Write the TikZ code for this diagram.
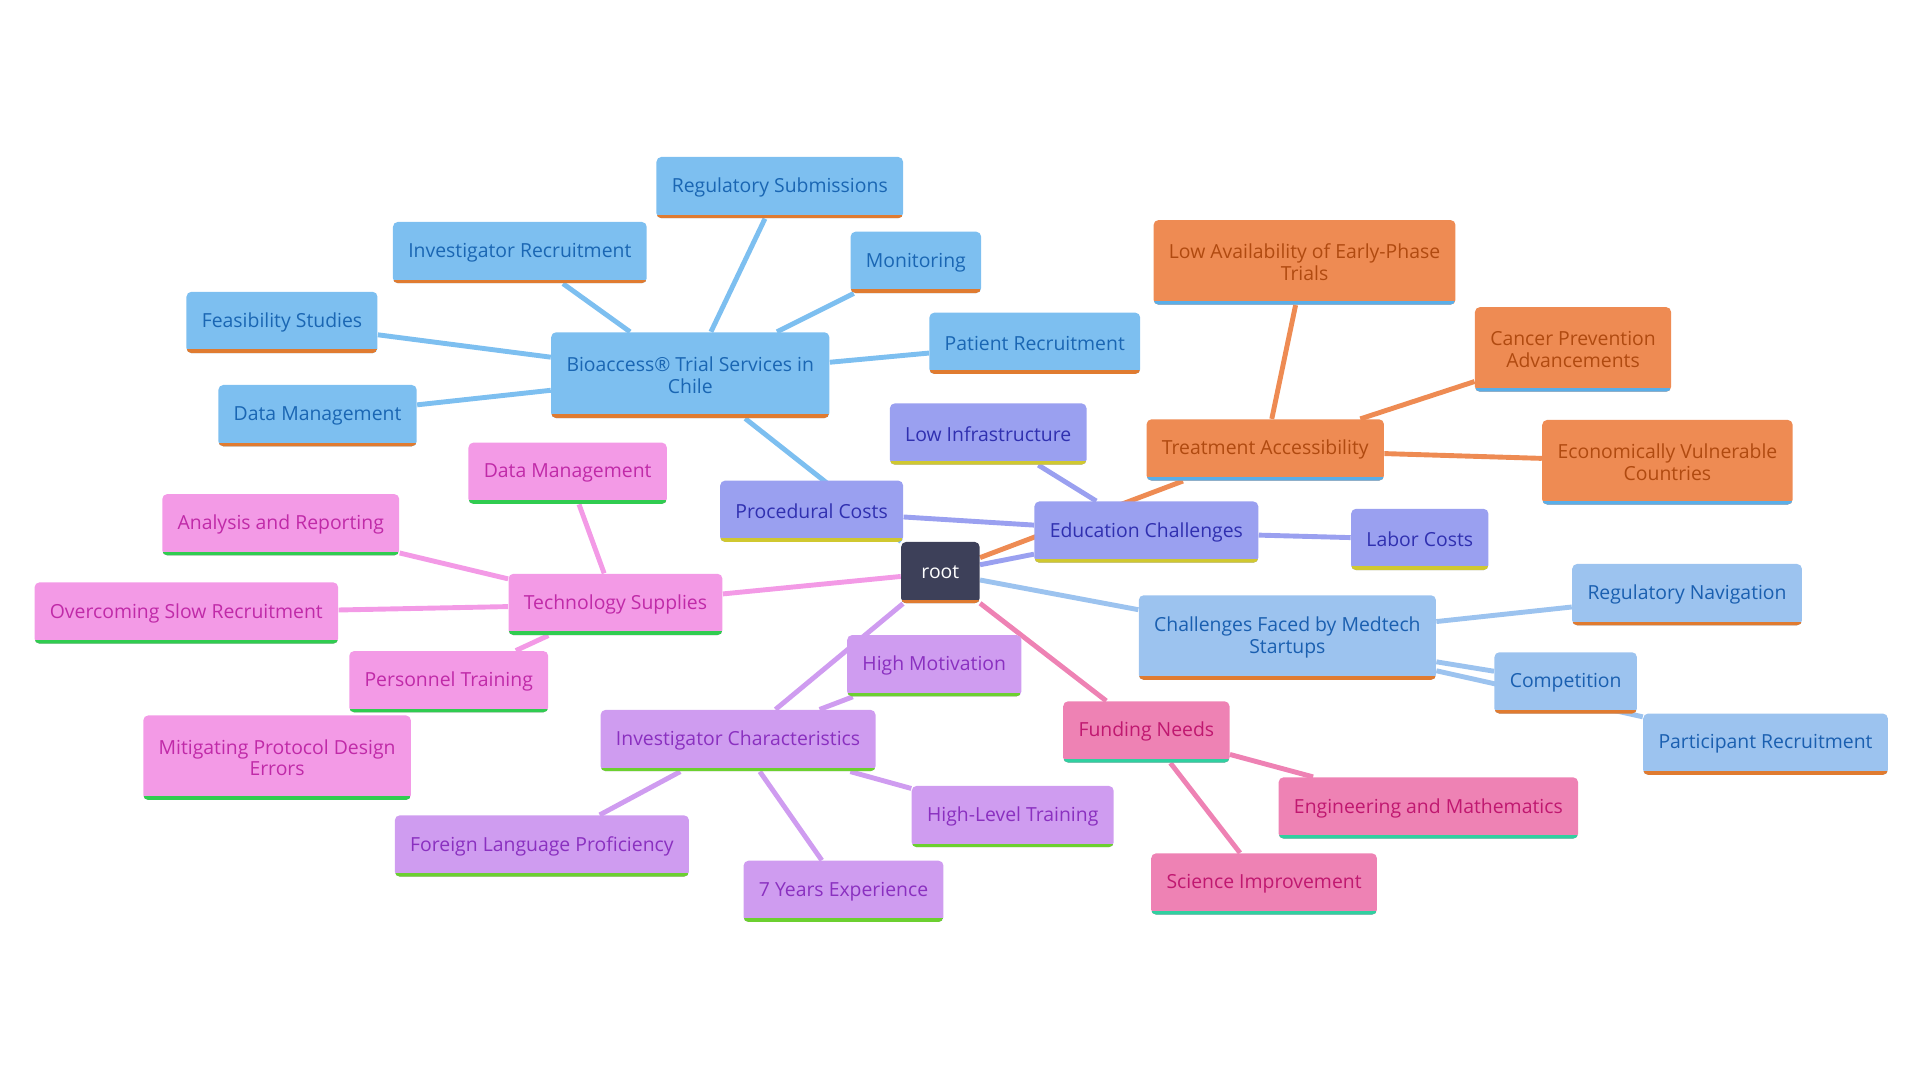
\documentclass[tikz,border=0pt]{standalone}
\usepackage{fontspec}
\setmainfont{Open Sans}
\usetikzlibrary{backgrounds}
\definecolor{rootfill}{HTML}{3D4059}
\definecolor{barorange}{HTML}{E07B30}
\definecolor{bluefill}{HTML}{7DBFF0}\definecolor{bluetext}{HTML}{1A66B3}
\definecolor{orfill}{HTML}{EE8B53}\definecolor{ortext}{HTML}{B04A10}\definecolor{orbar}{HTML}{5AAEE8}
\definecolor{pbfill}{HTML}{9AA0F0}\definecolor{pbtext}{HTML}{3030B0}\definecolor{pbbar}{HTML}{D0C830}
\definecolor{lbfill}{HTML}{9CC3EF}\definecolor{lbtext}{HTML}{1A5FB0}
\definecolor{pkfill}{HTML}{F39AE6}\definecolor{pktext}{HTML}{C02AA8}\definecolor{pkbar}{HTML}{30CC50}
\definecolor{vifill}{HTML}{CF9CF0}\definecolor{vitext}{HTML}{8A30C0}\definecolor{vibar}{HTML}{6CD030}
\definecolor{rsfill}{HTML}{EE82B4}\definecolor{rstext}{HTML}{C01870}\definecolor{rsbar}{HTML}{30D0A0}
\tikzset{
  barcol/.store in=\barcolour, barcol=barorange,
  topic/.style={rounded corners=0.08cm, minimum height=1cm, inner xsep=0.25cm,
    align=center, font=\fontsize{9}{10}\selectfont,
    path picture={\draw[line width=0.12cm,\barcolour] (path picture bounding box.south west) -- (path picture bounding box.south east);}},
  rootnode/.style={topic, fill=rootfill, text=white, barcol=barorange, minimum width=1.28cm},
  bluenode/.style={topic, fill=bluefill, text=bluetext, barcol=barorange},
  ornode/.style={topic, fill=orfill, text=ortext, barcol=orbar},
  pbnode/.style={topic, fill=pbfill, text=pbtext, barcol=pbbar},
  lbnode/.style={topic, fill=lbfill, text=lbtext, barcol=barorange},
  pknode/.style={topic, fill=pkfill, text=pktext, barcol=pkbar},
  vinode/.style={topic, fill=vifill, text=vitext, barcol=vibar},
  rsnode/.style={topic, fill=rsfill, text=rstext, barcol=rsbar},
  link/.style={line width=0.08cm}
}
\begin{document}
\begin{tikzpicture}[x=0.02cm,y=-0.02cm]
\useasboundingbox (0,0) rectangle (1566,881);
\node [rootnode] (root) at (767,467) {root};
% Bioaccess branch
\node [bluenode,minimum height=1.4cm] (bio) at (563,306) {Bioaccess® Trial Services in\\Chile};
\node [bluenode] (regsub) at (636,153) {Regulatory Submissions};
\node [bluenode] (invrec) at (424,206) {Investigator Recruitment};
\node [bluenode] (monit) at (747,214) {Monitoring};
\node [bluenode] (feas) at (230,263) {Feasibility Studies};
\node [bluenode] (patrec) at (844,280) {Patient Recruitment};
\node [bluenode] (datam) at (259,339) {Data Management};
% Treatment branch
\node [ornode] (treat) at (1032,367) {Treatment Accessibility};
\node [ornode,minimum height=1.38cm] (lowav) at (1064,214) {Low Availability of Early-Phase\\Trials};
\node [ornode,minimum height=1.38cm] (cancer) at (1283,285) {Cancer Prevention\\Advancements};
\node [ornode,minimum height=1.38cm] (econ) at (1360,377) {Economically Vulnerable\\Countries};
% Education branch
\node [pbnode] (edu) at (935,434) {Education Challenges};
\node [pbnode] (lowinf) at (806,354) {Low Infrastructure};
\node [pbnode] (proc) at (662,417) {Procedural Costs};
\node [pbnode] (labor) at (1158,440) {Labor Costs};
% Medtech branch
\node [lbnode,minimum height=1.38cm] (medtech) at (1050,520) {Challenges Faced by Medtech\\Startups};
\node [lbnode] (regnav) at (1376,485) {Regulatory Navigation};
\node [lbnode] (compet) at (1277,557) {Competition};
\node [lbnode] (partrec) at (1440,607) {Participant Recruitment};
% Technology branch
\node [pknode] (tech) at (502,493) {Technology Supplies};
\node [pknode] (datam2) at (463,386) {Data Management};
\node [pknode] (analysis) at (229,428) {Analysis and Reporting};
\node [pknode] (slow) at (152,500) {Overcoming Slow Recruitment};
\node [pknode] (personnel) at (366,556) {Personnel Training};
\node [pknode,minimum height=1.38cm] (protocol) at (226,618) {Mitigating Protocol Design\\Errors};
% Investigator branch
\node [vinode] (invchar) at (602,604) {Investigator Characteristics};
\node [vinode] (motiv) at (762,543) {High Motivation};
\node [vinode] (foreign) at (442,690) {Foreign Language Proficiency};
\node [vinode] (years) at (688,727) {7 Years Experience};
\node [vinode] (hltrain) at (826,666) {High-Level Training};
% Funding branch
\node [rsnode] (fund) at (935,597) {Funding Needs};
\node [rsnode] (engmath) at (1165,659) {Engineering and Mathematics};
\node [rsnode] (science) at (1031,721) {Science Improvement};
\begin{scope}[on background layer]
\draw[link,bluefill] (root) -- (bio);
\foreach \n in {regsub,invrec,monit,feas,patrec,datam} \draw[link,bluefill] (bio) -- (\n);
\draw[link,orfill] (root) -- (treat);
\foreach \n in {lowav,cancer,econ} \draw[link,orfill] (treat) -- (\n);
\draw[link,pbfill] (root) -- (edu);
\foreach \n in {lowinf,proc,labor} \draw[link,pbfill] (edu) -- (\n);
\draw[link,lbfill] (root) -- (medtech);
\foreach \n in {regnav,compet,partrec} \draw[link,lbfill] (medtech) -- (\n);
\draw[link,pkfill] (root) -- (tech);
\foreach \n in {datam2,analysis,slow,personnel} \draw[link,pkfill] (tech) -- (\n);
\draw[link,vifill] (root) -- (invchar);
\foreach \n in {motiv,foreign,years,hltrain} \draw[link,vifill] (invchar) -- (\n);
\draw[link,rsfill] (root) -- (fund);
\foreach \n in {engmath,science} \draw[link,rsfill] (fund) -- (\n);
\end{scope}
\end{tikzpicture}
\end{document}
